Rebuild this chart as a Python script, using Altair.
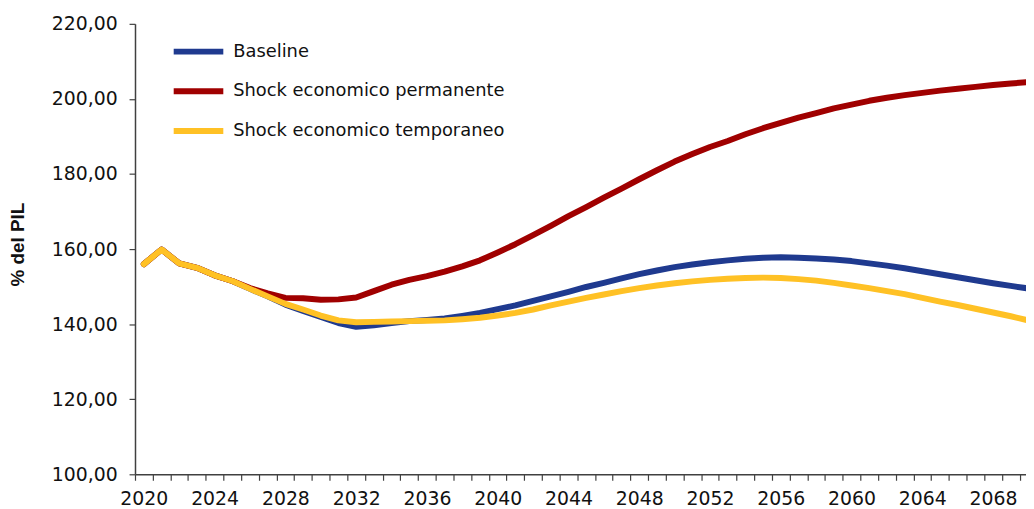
import altair as alt
import pandas as pd

years = list(range(2020, 2071))

baseline = [156.0, 159.9, 156.2, 155.0, 153.0, 151.5, 149.4, 147.4, 145.2, 143.5,
            141.9, 140.3, 139.3, 139.7, 140.3, 140.8, 141.1, 141.5, 142.2, 143.0,
            144.0, 145.0, 146.2, 147.4, 148.6, 149.9, 151.0, 152.2, 153.3, 154.3,
            155.2, 155.9, 156.5, 157.0, 157.4, 157.7, 157.8, 157.7, 157.5, 157.2,
            156.8, 156.2, 155.6, 154.9, 154.1, 153.3, 152.5, 151.7, 150.9, 150.2,
            149.5]

permanente = [156.0, 159.9, 156.2, 155.0, 153.0, 151.5, 149.6, 148.2, 147.0, 146.9,
              146.5, 146.6, 147.1, 148.8, 150.5, 151.8, 152.8, 154.0, 155.4, 157.0,
              159.1, 161.3, 163.7, 166.2, 168.8, 171.2, 173.7, 176.1, 178.6, 181.0,
              183.3, 185.3, 187.2, 188.8, 190.6, 192.2, 193.6, 195.0, 196.2, 197.5,
              198.5, 199.5, 200.3, 201.0, 201.6, 202.2, 202.7, 203.2, 203.7, 204.1,
              204.5]

temporaneo = [156.0, 159.9, 156.2, 155.0, 153.0, 151.5, 149.4, 147.4, 145.4, 143.9,
              142.3, 141.0, 140.5, 140.6, 140.7, 140.8, 140.9, 141.0, 141.3, 141.7,
              142.3, 143.0, 143.9, 145.0, 146.0, 147.0, 147.9, 148.8, 149.6, 150.3,
              150.9, 151.4, 151.8, 152.1, 152.3, 152.4, 152.3, 152.0, 151.6, 151.0,
              150.3, 149.6, 148.8, 148.0, 147.0, 146.0, 145.1, 144.1, 143.1, 142.1,
              141.0]

series_names = ["Baseline", "Shock economico permanente", "Shock economico temporaneo"]
series_colors = ["#1f3a8f", "#a00000", "#ffc125"]

y_ticks = [100, 120, 140, 160, 180, 200, 220]
x_label_years = list(range(2020, 2069, 4))
x_tick_bounds = [y - 0.5 for y in range(2020, 2071)]

rows = []
for name, vals in zip(series_names, [baseline, permanente, temporaneo]):
    for yr, v in zip(years, vals):
        rows.append({"anno": yr, "valore": v, "serie": name})
df = pd.DataFrame(rows)

FONT = "DejaVu Sans"

x_scale = alt.Scale(domain=[2019.5, 2069.86], nice=False, zero=False)
y_scale = alt.Scale(domain=[100, 220], nice=False, zero=False)

lines = alt.Chart(df).mark_line(
    strokeWidth=6, strokeCap="round", strokeJoin="round", clip=True
).encode(
    x=alt.X("anno:Q", scale=x_scale,
            axis=alt.Axis(orient="bottom", values=x_tick_bounds, labels=False, ticks=True,
                          tickSize=6, tickColor="#404040", domainColor="#404040",
                          domainWidth=1.5, tickWidth=1.2, grid=False, title=None)),
    y=alt.Y("valore:Q", scale=y_scale,
            axis=alt.Axis(values=y_ticks, tickSize=6, tickColor="#404040",
                          domainColor="#404040", domainWidth=1.5, tickWidth=1.2,
                          grid=False, labelFont=FONT, labelFontSize=19,
                          labelColor="#111111", labelPadding=12,
                          labelExpr="replace(format(datum.value, '.2f'), '.', ',')",
                          title="% del PIL", titleFont="Liberation Sans",
                          titleFontSize=19, titleFontWeight="bold", titleColor="#111111",
                          titleAngle=270, titleX=-118, titleY=222,
                          titleAlign="center", titleBaseline="middle")),
    color=alt.Color("serie:N",
                    scale=alt.Scale(domain=series_names, range=series_colors),
                    legend=alt.Legend(title=None, orient="none", legendX=36, legendY=0,
                                      symbolType="stroke", symbolSize=2500,
                                      symbolStrokeWidth=6, labelFont=FONT,
                                      labelFontSize=18, labelColor="#111111",
                                      labelOffset=7, labelLimit=0, rowPadding=0,
                                      padding=0)),
    order=alt.Order("serie:N")
)

labels = alt.Chart(pd.DataFrame({"anno": x_label_years})).mark_point(opacity=0).encode(
    x=alt.X("anno:Q", scale=x_scale,
            axis=alt.Axis(orient="bottom", values=x_label_years, format="d", ticks=False,
                          domain=False, grid=False, labelFont=FONT, labelFontSize=19,
                          labelColor="#111111", labelPadding=15, labelFlush=False,
                          labelOverlap=False, title=None))
)

chart = alt.layer(lines, labels).resolve_axis(x="independent").properties(
    width=898, height=454,
    autosize=alt.AutoSizeParams(type="none"),
    padding={"left": 128, "top": 14, "right": 0, "bottom": 33},
).configure_view(stroke=None)

chart.save("out.html", embed_options={"renderer": "svg", "actions": False})
